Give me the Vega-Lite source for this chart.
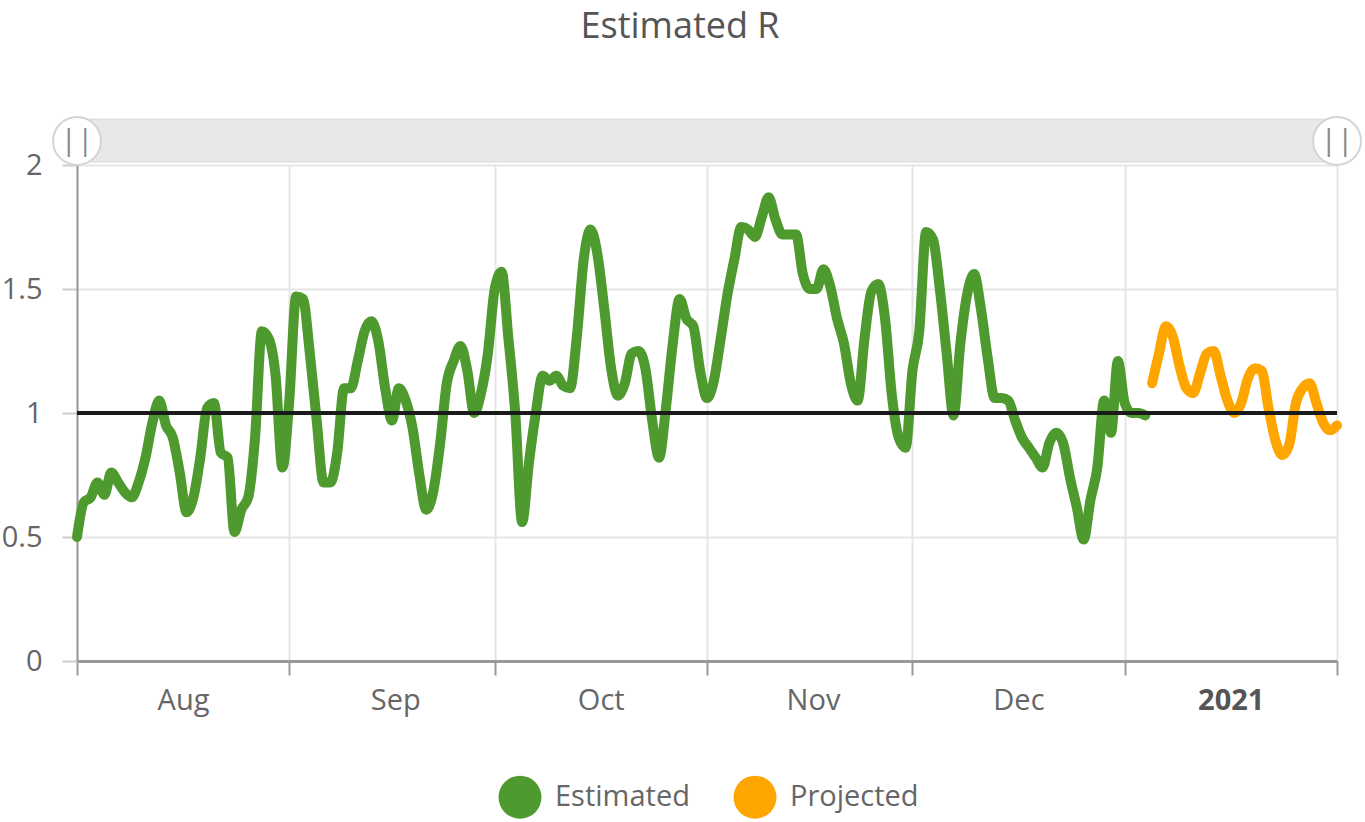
{
"$schema": "https://vega.github.io/schema/vega-lite/v6.json",
"width": 1260,
"height": 496,
"autosize": {"type": "none"},
"padding": {"left": 77, "top": 165, "right": 28, "bottom": 161},
"background": "white",
"title": {"text": "Estimated R", "font": "Open Sans", "fontSize": 36, "fontWeight": "normal", "color": "#555555", "anchor": "middle", "frame": "group", "dx": -27, "offset": 67},
"config": {"view": {"stroke": null}, "font": "Open Sans"},
"datasets": {
"r": [
{"date":"2020-08-01","r":0.50,"s":"Estimated"},
{"date":"2020-08-02","r":0.64,"s":"Estimated"},
{"date":"2020-08-03","r":0.66,"s":"Estimated"},
{"date":"2020-08-04","r":0.72,"s":"Estimated"},
{"date":"2020-08-05","r":0.67,"s":"Estimated"},
{"date":"2020-08-06","r":0.76,"s":"Estimated"},
{"date":"2020-08-07","r":0.72,"s":"Estimated"},
{"date":"2020-08-08","r":0.68,"s":"Estimated"},
{"date":"2020-08-09","r":0.66,"s":"Estimated"},
{"date":"2020-08-10","r":0.72,"s":"Estimated"},
{"date":"2020-08-11","r":0.82,"s":"Estimated"},
{"date":"2020-08-12","r":0.96,"s":"Estimated"},
{"date":"2020-08-13","r":1.05,"s":"Estimated"},
{"date":"2020-08-14","r":0.95,"s":"Estimated"},
{"date":"2020-08-15","r":0.90,"s":"Estimated"},
{"date":"2020-08-16","r":0.76,"s":"Estimated"},
{"date":"2020-08-17","r":0.60,"s":"Estimated"},
{"date":"2020-08-18","r":0.66,"s":"Estimated"},
{"date":"2020-08-19","r":0.82,"s":"Estimated"},
{"date":"2020-08-20","r":1.02,"s":"Estimated"},
{"date":"2020-08-21","r":1.04,"s":"Estimated"},
{"date":"2020-08-22","r":0.84,"s":"Estimated"},
{"date":"2020-08-23","r":0.82,"s":"Estimated"},
{"date":"2020-08-24","r":0.52,"s":"Estimated"},
{"date":"2020-08-25","r":0.61,"s":"Estimated"},
{"date":"2020-08-26","r":0.66,"s":"Estimated"},
{"date":"2020-08-27","r":0.90,"s":"Estimated"},
{"date":"2020-08-28","r":1.33,"s":"Estimated"},
{"date":"2020-08-29","r":1.30,"s":"Estimated"},
{"date":"2020-08-30","r":1.15,"s":"Estimated"},
{"date":"2020-08-31","r":0.78,"s":"Estimated"},
{"date":"2020-09-01","r":1.05,"s":"Estimated"},
{"date":"2020-09-02","r":1.47,"s":"Estimated"},
{"date":"2020-09-03","r":1.46,"s":"Estimated"},
{"date":"2020-09-04","r":1.24,"s":"Estimated"},
{"date":"2020-09-05","r":0.97,"s":"Estimated"},
{"date":"2020-09-06","r":0.72,"s":"Estimated"},
{"date":"2020-09-07","r":0.72,"s":"Estimated"},
{"date":"2020-09-08","r":0.84,"s":"Estimated"},
{"date":"2020-09-09","r":1.10,"s":"Estimated"},
{"date":"2020-09-10","r":1.10,"s":"Estimated"},
{"date":"2020-09-11","r":1.21,"s":"Estimated"},
{"date":"2020-09-12","r":1.33,"s":"Estimated"},
{"date":"2020-09-13","r":1.37,"s":"Estimated"},
{"date":"2020-09-14","r":1.29,"s":"Estimated"},
{"date":"2020-09-15","r":1.10,"s":"Estimated"},
{"date":"2020-09-16","r":0.97,"s":"Estimated"},
{"date":"2020-09-17","r":1.10,"s":"Estimated"},
{"date":"2020-09-18","r":1.05,"s":"Estimated"},
{"date":"2020-09-19","r":0.94,"s":"Estimated"},
{"date":"2020-09-20","r":0.75,"s":"Estimated"},
{"date":"2020-09-21","r":0.61,"s":"Estimated"},
{"date":"2020-09-22","r":0.68,"s":"Estimated"},
{"date":"2020-09-23","r":0.87,"s":"Estimated"},
{"date":"2020-09-24","r":1.12,"s":"Estimated"},
{"date":"2020-09-25","r":1.21,"s":"Estimated"},
{"date":"2020-09-26","r":1.27,"s":"Estimated"},
{"date":"2020-09-27","r":1.17,"s":"Estimated"},
{"date":"2020-09-28","r":1.00,"s":"Estimated"},
{"date":"2020-09-29","r":1.08,"s":"Estimated"},
{"date":"2020-09-30","r":1.24,"s":"Estimated"},
{"date":"2020-10-01","r":1.50,"s":"Estimated"},
{"date":"2020-10-02","r":1.57,"s":"Estimated"},
{"date":"2020-10-03","r":1.30,"s":"Estimated"},
{"date":"2020-10-04","r":1.00,"s":"Estimated"},
{"date":"2020-10-05","r":0.56,"s":"Estimated"},
{"date":"2020-10-06","r":0.80,"s":"Estimated"},
{"date":"2020-10-07","r":1.00,"s":"Estimated"},
{"date":"2020-10-08","r":1.15,"s":"Estimated"},
{"date":"2020-10-09","r":1.13,"s":"Estimated"},
{"date":"2020-10-10","r":1.15,"s":"Estimated"},
{"date":"2020-10-11","r":1.11,"s":"Estimated"},
{"date":"2020-10-12","r":1.10,"s":"Estimated"},
{"date":"2020-10-13","r":1.31,"s":"Estimated"},
{"date":"2020-10-14","r":1.62,"s":"Estimated"},
{"date":"2020-10-15","r":1.74,"s":"Estimated"},
{"date":"2020-10-16","r":1.64,"s":"Estimated"},
{"date":"2020-10-17","r":1.42,"s":"Estimated"},
{"date":"2020-10-18","r":1.18,"s":"Estimated"},
{"date":"2020-10-19","r":1.07,"s":"Estimated"},
{"date":"2020-10-20","r":1.12,"s":"Estimated"},
{"date":"2020-10-21","r":1.24,"s":"Estimated"},
{"date":"2020-10-22","r":1.25,"s":"Estimated"},
{"date":"2020-10-23","r":1.18,"s":"Estimated"},
{"date":"2020-10-24","r":0.97,"s":"Estimated"},
{"date":"2020-10-25","r":0.82,"s":"Estimated"},
{"date":"2020-10-26","r":1.02,"s":"Estimated"},
{"date":"2020-10-27","r":1.28,"s":"Estimated"},
{"date":"2020-10-28","r":1.46,"s":"Estimated"},
{"date":"2020-10-29","r":1.38,"s":"Estimated"},
{"date":"2020-10-30","r":1.35,"s":"Estimated"},
{"date":"2020-10-31","r":1.17,"s":"Estimated"},
{"date":"2020-11-01","r":1.06,"s":"Estimated"},
{"date":"2020-11-02","r":1.13,"s":"Estimated"},
{"date":"2020-11-03","r":1.30,"s":"Estimated"},
{"date":"2020-11-04","r":1.48,"s":"Estimated"},
{"date":"2020-11-05","r":1.62,"s":"Estimated"},
{"date":"2020-11-06","r":1.75,"s":"Estimated"},
{"date":"2020-11-07","r":1.74,"s":"Estimated"},
{"date":"2020-11-08","r":1.71,"s":"Estimated"},
{"date":"2020-11-09","r":1.79,"s":"Estimated"},
{"date":"2020-11-10","r":1.87,"s":"Estimated"},
{"date":"2020-11-11","r":1.78,"s":"Estimated"},
{"date":"2020-11-12","r":1.72,"s":"Estimated"},
{"date":"2020-11-13","r":1.72,"s":"Estimated"},
{"date":"2020-11-14","r":1.72,"s":"Estimated"},
{"date":"2020-11-15","r":1.56,"s":"Estimated"},
{"date":"2020-11-16","r":1.50,"s":"Estimated"},
{"date":"2020-11-17","r":1.50,"s":"Estimated"},
{"date":"2020-11-18","r":1.58,"s":"Estimated"},
{"date":"2020-11-19","r":1.51,"s":"Estimated"},
{"date":"2020-11-20","r":1.38,"s":"Estimated"},
{"date":"2020-11-21","r":1.28,"s":"Estimated"},
{"date":"2020-11-22","r":1.12,"s":"Estimated"},
{"date":"2020-11-23","r":1.05,"s":"Estimated"},
{"date":"2020-11-24","r":1.30,"s":"Estimated"},
{"date":"2020-11-25","r":1.49,"s":"Estimated"},
{"date":"2020-11-26","r":1.52,"s":"Estimated"},
{"date":"2020-11-27","r":1.38,"s":"Estimated"},
{"date":"2020-11-28","r":1.07,"s":"Estimated"},
{"date":"2020-11-29","r":0.90,"s":"Estimated"},
{"date":"2020-11-30","r":0.86,"s":"Estimated"},
{"date":"2020-12-01","r":1.17,"s":"Estimated"},
{"date":"2020-12-02","r":1.33,"s":"Estimated"},
{"date":"2020-12-03","r":1.73,"s":"Estimated"},
{"date":"2020-12-04","r":1.70,"s":"Estimated"},
{"date":"2020-12-05","r":1.50,"s":"Estimated"},
{"date":"2020-12-06","r":1.24,"s":"Estimated"},
{"date":"2020-12-07","r":0.99,"s":"Estimated"},
{"date":"2020-12-08","r":1.28,"s":"Estimated"},
{"date":"2020-12-09","r":1.48,"s":"Estimated"},
{"date":"2020-12-10","r":1.56,"s":"Estimated"},
{"date":"2020-12-11","r":1.42,"s":"Estimated"},
{"date":"2020-12-12","r":1.22,"s":"Estimated"},
{"date":"2020-12-13","r":1.06,"s":"Estimated"},
{"date":"2020-12-14","r":1.06,"s":"Estimated"},
{"date":"2020-12-15","r":1.05,"s":"Estimated"},
{"date":"2020-12-16","r":0.97,"s":"Estimated"},
{"date":"2020-12-17","r":0.90,"s":"Estimated"},
{"date":"2020-12-18","r":0.86,"s":"Estimated"},
{"date":"2020-12-19","r":0.82,"s":"Estimated"},
{"date":"2020-12-20","r":0.78,"s":"Estimated"},
{"date":"2020-12-21","r":0.88,"s":"Estimated"},
{"date":"2020-12-22","r":0.92,"s":"Estimated"},
{"date":"2020-12-23","r":0.88,"s":"Estimated"},
{"date":"2020-12-24","r":0.74,"s":"Estimated"},
{"date":"2020-12-25","r":0.62,"s":"Estimated"},
{"date":"2020-12-26","r":0.49,"s":"Estimated"},
{"date":"2020-12-27","r":0.65,"s":"Estimated"},
{"date":"2020-12-28","r":0.78,"s":"Estimated"},
{"date":"2020-12-29","r":1.05,"s":"Estimated"},
{"date":"2020-12-30","r":0.92,"s":"Estimated"},
{"date":"2020-12-31","r":1.21,"s":"Estimated"},
{"date":"2021-01-01","r":1.04,"s":"Estimated"},
{"date":"2021-01-02","r":1.00,"s":"Estimated"},
{"date":"2021-01-03","r":1.00,"s":"Estimated"},
{"date":"2021-01-04","r":0.99,"s":"Estimated"},
{"date":"2021-01-05","r":1.12,"s":"Projected"},
{"date":"2021-01-06","r":1.24,"s":"Projected"},
{"date":"2021-01-07","r":1.35,"s":"Projected"},
{"date":"2021-01-08","r":1.31,"s":"Projected"},
{"date":"2021-01-09","r":1.19,"s":"Projected"},
{"date":"2021-01-10","r":1.10,"s":"Projected"},
{"date":"2021-01-11","r":1.08,"s":"Projected"},
{"date":"2021-01-12","r":1.16,"s":"Projected"},
{"date":"2021-01-13","r":1.24,"s":"Projected"},
{"date":"2021-01-14","r":1.25,"s":"Projected"},
{"date":"2021-01-15","r":1.15,"s":"Projected"},
{"date":"2021-01-16","r":1.05,"s":"Projected"},
{"date":"2021-01-17","r":1.00,"s":"Projected"},
{"date":"2021-01-18","r":1.04,"s":"Projected"},
{"date":"2021-01-19","r":1.14,"s":"Projected"},
{"date":"2021-01-20","r":1.18,"s":"Projected"},
{"date":"2021-01-21","r":1.17,"s":"Projected"},
{"date":"2021-01-22","r":1.02,"s":"Projected"},
{"date":"2021-01-23","r":0.89,"s":"Projected"},
{"date":"2021-01-24","r":0.83,"s":"Projected"},
{"date":"2021-01-25","r":0.87,"s":"Projected"},
{"date":"2021-01-26","r":1.04,"s":"Projected"},
{"date":"2021-01-27","r":1.10,"s":"Projected"},
{"date":"2021-01-28","r":1.12,"s":"Projected"},
{"date":"2021-01-29","r":1.04,"s":"Projected"},
{"date":"2021-01-30","r":0.96,"s":"Projected"},
{"date":"2021-01-31","r":0.93,"s":"Projected"},
{"date":"2021-02-01","r":0.95,"s":"Projected"}
],
"handles": [
{"date":"2020-08-01","mark":"||"},
{"date":"2021-02-01","mark":"||"}
]
},
"layer": [
{
"data": {"name": "r"},
"mark": {"type": "line", "strokeWidth": 10, "strokeCap": "round", "strokeJoin": "round", "interpolate": "monotone"},
"encoding": {
"x": {"field": "date", "type": "temporal", "title": null,
"scale": {"type": "utc", "domain": [{"year": 2020, "month": 8, "date": 1, "utc": true}, {"year": 2021, "month": 2, "date": 1, "utc": true}]},
"axis": {"title": null,
"values": [{"year": 2020, "month": 8, "date": 1, "utc": true}, {"year": 2020, "month": 9, "date": 1, "utc": true}, {"year": 2020, "month": 10, "date": 1, "utc": true}, {"year": 2020, "month": 11, "date": 1, "utc": true}, {"year": 2020, "month": 12, "date": 1, "utc": true}, {"year": 2021, "month": 1, "date": 1, "utc": true}, {"year": 2021, "month": 2, "date": 1, "utc": true}],
"labelExpr": "utcmonth(datum.value) == 1 ? '' : (utcmonth(datum.value) == 0 ? '2021' : utcFormat(datum.value, '%b'))",
"labelFont": "Open Sans", "labelFontSize": 29, "labelColor": {"condition": {"test": "utcmonth(datum.value) == 0", "value": "#555555"}, "value": "#666666"},
"labelFontWeight": {"condition": {"test": "utcmonth(datum.value) == 0", "value": "bold"}, "value": "normal"},
"labelOffset": 106, "labelPadding": 11, "labelOverlap": false, "labelBound": false, "labelFlush": false,
"tickSize": 14, "tickColor": "#999999", "tickWidth": 2,
"domainColor": "#999999", "domainWidth": 3,
"grid": true, "gridColor": "#e6e6e6", "gridWidth": 2}
},
"y": {"field": "r", "type": "quantitative", "title": null,
"scale": {"domain": [0, 2], "nice": false, "zero": false},
"axis": {"title": null, "values": [0, 0.5, 1, 1.5, 2], "format": "~g",
"labelFont": "Open Sans", "labelFontSize": 29, "labelColor": "#666666", "labelPadding": 20,
"tickSize": 15, "tickColor": "#cccccc", "tickWidth": 2,
"domainColor": "#999999", "domainWidth": 2,
"grid": true, "gridColor": "#e6e6e6", "gridWidth": 2}
},
"color": {"field": "s", "type": "nominal",
"scale": {"domain": ["Estimated", "Projected"], "range": ["#4e9a2f", "#ffa500"]},
"legend": {"title": null, "orient": "none", "legendX": 421, "legendY": 610, "direction": "horizontal",
"symbolType": "circle", "symbolSize": 1850, "symbolStrokeWidth": 0,
"labelFont": "Open Sans", "labelFontSize": 29, "labelColor": "#666666", "labelOffset": 13, "columnPadding": 43, "padding": 0,
"encode": {"symbols": {"update": {"fill": {"scale": "color", "field": "value"}, "opacity": {"value": 1}}}}}
}
}
},
{
"data": {"values": [{}]},
"mark": {"type": "rect", "fill": "#e8e8e8", "stroke": "#dadada", "strokeWidth": 1, "clip": false},
"encoding": {
"x": {"datum": {"year": 2020, "month": 8, "date": 1, "utc": true}, "type": "temporal", "title": null},
"x2": {"datum": {"year": 2021, "month": 2, "date": 1, "utc": true}},
"y": {"datum": 2.012, "type": "quantitative", "title": null},
"y2": {"datum": 2.185}
}
},
{
"data": {"values": [{}]},
"mark": {"type": "rule", "color": "#1a1a1a", "strokeWidth": 4},
"encoding": {
"y": {"datum": 1, "type": "quantitative", "title": null}
}
},
{
"data": {"name": "handles"},
"mark": {"type": "point", "filled": true, "fill": "white", "stroke": "#d4d4d4", "strokeWidth": 2, "size": 2300, "opacity": 1, "clip": false},
"encoding": {
"x": {"field": "date", "type": "temporal", "title": null},
"y": {"datum": 2.097, "type": "quantitative", "title": null}
}
},
{
"data": {"name": "handles"},
"mark": {"type": "text", "font": "Open Sans", "fontSize": 30, "color": "#8a8a8a", "align": "center", "baseline": "middle", "clip": false},
"encoding": {
"x": {"field": "date", "type": "temporal", "title": null},
"y": {"datum": 2.097, "type": "quantitative", "title": null},
"text": {"field": "mark"}
}
}
]
}
